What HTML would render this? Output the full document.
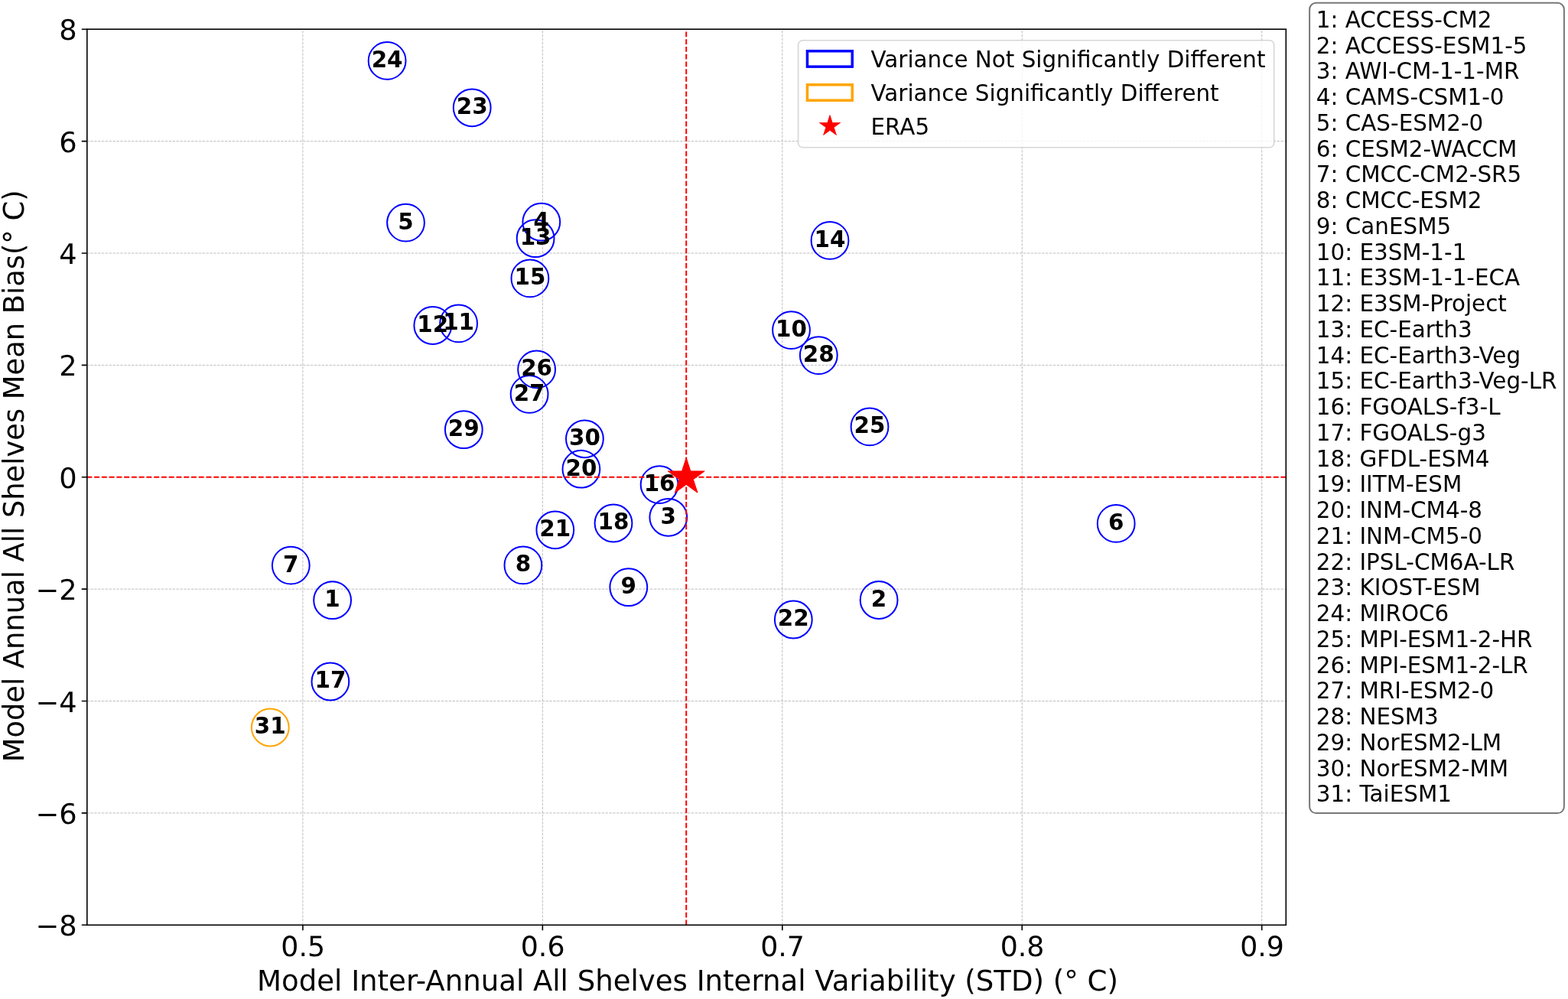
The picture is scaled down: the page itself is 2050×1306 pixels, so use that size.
<!DOCTYPE html><html><head><meta charset="utf-8"><title>Model bias vs variability</title><style>html,body{margin:0;padding:0;background:#fff;overflow:hidden}svg{display:block}text{font-family:"DejaVu Sans","Liberation Sans",sans-serif}</style></head><body>
<svg width="2050" height="1306" viewBox="0 0 2050 1306">
<rect width="100%" height="100%" fill="#fff"/>
<path d="M395.90 1209.30V38.20M709.35 1209.30V38.20M1022.80 1209.30V38.20M1336.25 1209.30V38.20M1649.70 1209.30V38.20" stroke="#bdbdbd" stroke-width="1" stroke-dasharray="3.404 1.474" fill="none"/>
<path d="M113.80 1062.89H1681.30M113.80 916.51H1681.30M113.80 770.13H1681.30M113.80 623.75H1681.30M113.80 477.37H1681.30M113.80 330.99H1681.30M113.80 184.61H1681.30" stroke="#bdbdbd" stroke-width="1" stroke-dasharray="3.404 1.474" stroke-dashoffset="0.38" fill="none"/>
<circle cx="434.6" cy="784.7" r="24.4" fill="none" stroke="#0000ff" stroke-width="2"/>
<circle cx="1149.1" cy="784.5" r="24.4" fill="none" stroke="#0000ff" stroke-width="2"/>
<circle cx="873.8" cy="676.3" r="24.4" fill="none" stroke="#0000ff" stroke-width="2"/>
<circle cx="707.8" cy="290.2" r="24.4" fill="none" stroke="#0000ff" stroke-width="2"/>
<circle cx="530.5" cy="291.1" r="24.4" fill="none" stroke="#0000ff" stroke-width="2"/>
<circle cx="1459.2" cy="684.4" r="24.4" fill="none" stroke="#0000ff" stroke-width="2"/>
<circle cx="380.3" cy="739.1" r="24.4" fill="none" stroke="#0000ff" stroke-width="2"/>
<circle cx="683.9" cy="738.9" r="24.4" fill="none" stroke="#0000ff" stroke-width="2"/>
<circle cx="821.8" cy="767.7" r="24.4" fill="none" stroke="#0000ff" stroke-width="2"/>
<circle cx="1034.5" cy="431.6" r="24.4" fill="none" stroke="#0000ff" stroke-width="2"/>
<circle cx="599.6" cy="422.9" r="24.4" fill="none" stroke="#0000ff" stroke-width="2"/>
<circle cx="565.8" cy="425.5" r="24.4" fill="none" stroke="#0000ff" stroke-width="2"/>
<circle cx="700.1" cy="311.7" r="24.4" fill="none" stroke="#0000ff" stroke-width="2"/>
<circle cx="1085.0" cy="314.4" r="24.4" fill="none" stroke="#0000ff" stroke-width="2"/>
<circle cx="692.9" cy="363.9" r="24.4" fill="none" stroke="#0000ff" stroke-width="2"/>
<circle cx="862.1" cy="633.6" r="24.4" fill="none" stroke="#0000ff" stroke-width="2"/>
<circle cx="431.9" cy="891.0" r="24.4" fill="none" stroke="#0000ff" stroke-width="2"/>
<circle cx="802.0" cy="684.0" r="24.4" fill="none" stroke="#0000ff" stroke-width="2"/>
<circle cx="759.9" cy="613.2" r="24.4" fill="none" stroke="#0000ff" stroke-width="2"/>
<circle cx="725.8" cy="692.8" r="24.4" fill="none" stroke="#0000ff" stroke-width="2"/>
<circle cx="1037.3" cy="810.0" r="24.4" fill="none" stroke="#0000ff" stroke-width="2"/>
<circle cx="617.2" cy="140.8" r="24.4" fill="none" stroke="#0000ff" stroke-width="2"/>
<circle cx="506.1" cy="79.4" r="24.4" fill="none" stroke="#0000ff" stroke-width="2"/>
<circle cx="1137.0" cy="557.9" r="24.4" fill="none" stroke="#0000ff" stroke-width="2"/>
<circle cx="701.6" cy="482.9" r="24.4" fill="none" stroke="#0000ff" stroke-width="2"/>
<circle cx="692.1" cy="515.4" r="24.4" fill="none" stroke="#0000ff" stroke-width="2"/>
<circle cx="1070.3" cy="464.6" r="24.4" fill="none" stroke="#0000ff" stroke-width="2"/>
<circle cx="606.3" cy="561.7" r="24.4" fill="none" stroke="#0000ff" stroke-width="2"/>
<circle cx="764.4" cy="573.8" r="24.4" fill="none" stroke="#0000ff" stroke-width="2"/>
<circle cx="353.3" cy="951.0" r="24.4" fill="none" stroke="#ffa500" stroke-width="2"/>
<polygon points="897.20,598.55 891.54,615.96 873.23,615.96 888.05,626.72 882.39,644.14 897.20,633.38 912.01,644.14 906.35,626.72 921.17,615.96 902.86,615.96" fill="#ff0000" stroke="#ff0000" stroke-width="1" stroke-linejoin="bevel"/>
<path d="M113.80 623.75H1681.30" stroke="#ff0000" stroke-width="2" stroke-dasharray="6.81 2.947" stroke-dashoffset="0.44" fill="none"/>
<path d="M897.20 1209.30V38.20" stroke="#ff0000" stroke-width="2" stroke-dasharray="6.81 2.947" fill="none"/>
<text x="434.6" y="793.1" font-size="29.4" font-weight="bold" text-anchor="middle">1</text>
<text x="1149.1" y="792.9" font-size="29.4" font-weight="bold" text-anchor="middle">2</text>
<text x="873.8" y="684.7" font-size="29.4" font-weight="bold" text-anchor="middle">3</text>
<text x="707.8" y="298.6" font-size="29.4" font-weight="bold" text-anchor="middle">4</text>
<text x="530.5" y="299.5" font-size="29.4" font-weight="bold" text-anchor="middle">5</text>
<text x="1459.2" y="692.8" font-size="29.4" font-weight="bold" text-anchor="middle">6</text>
<text x="380.3" y="747.5" font-size="29.4" font-weight="bold" text-anchor="middle">7</text>
<text x="683.9" y="747.3" font-size="29.4" font-weight="bold" text-anchor="middle">8</text>
<text x="821.8" y="776.1" font-size="29.4" font-weight="bold" text-anchor="middle">9</text>
<text x="1034.5" y="440.0" font-size="29.4" font-weight="bold" text-anchor="middle">10</text>
<text x="599.6" y="431.3" font-size="29.4" font-weight="bold" text-anchor="middle">11</text>
<text x="565.8" y="433.9" font-size="29.4" font-weight="bold" text-anchor="middle">12</text>
<text x="700.1" y="320.1" font-size="29.4" font-weight="bold" text-anchor="middle">13</text>
<text x="1085.0" y="322.8" font-size="29.4" font-weight="bold" text-anchor="middle">14</text>
<text x="692.9" y="372.3" font-size="29.4" font-weight="bold" text-anchor="middle">15</text>
<text x="862.1" y="642.0" font-size="29.4" font-weight="bold" text-anchor="middle">16</text>
<text x="431.9" y="899.4" font-size="29.4" font-weight="bold" text-anchor="middle">17</text>
<text x="802.0" y="692.4" font-size="29.4" font-weight="bold" text-anchor="middle">18</text>
<text x="759.9" y="621.6" font-size="29.4" font-weight="bold" text-anchor="middle">20</text>
<text x="725.8" y="701.2" font-size="29.4" font-weight="bold" text-anchor="middle">21</text>
<text x="1037.3" y="818.4" font-size="29.4" font-weight="bold" text-anchor="middle">22</text>
<text x="617.2" y="149.2" font-size="29.4" font-weight="bold" text-anchor="middle">23</text>
<text x="506.1" y="87.8" font-size="29.4" font-weight="bold" text-anchor="middle">24</text>
<text x="1137.0" y="566.3" font-size="29.4" font-weight="bold" text-anchor="middle">25</text>
<text x="701.6" y="491.3" font-size="29.4" font-weight="bold" text-anchor="middle">26</text>
<text x="692.1" y="523.8" font-size="29.4" font-weight="bold" text-anchor="middle">27</text>
<text x="1070.3" y="473.0" font-size="29.4" font-weight="bold" text-anchor="middle">28</text>
<text x="606.3" y="570.1" font-size="29.4" font-weight="bold" text-anchor="middle">29</text>
<text x="764.4" y="582.2" font-size="29.4" font-weight="bold" text-anchor="middle">30</text>
<text x="353.3" y="959.4" font-size="29.4" font-weight="bold" text-anchor="middle">31</text>
<rect x="113.80" y="38.20" width="1567.50" height="1171.10" fill="none" stroke="#000" stroke-width="1.6" stroke-linejoin="miter"/>
<path d="M395.90 1209.30V1216.30M709.35 1209.30V1216.30M1022.80 1209.30V1216.30M1336.25 1209.30V1216.30M1649.70 1209.30V1216.30M106.80 1209.27H113.80M106.80 1062.89H113.80M106.80 916.51H113.80M106.80 770.13H113.80M106.80 623.75H113.80M106.80 477.37H113.80M106.80 330.99H113.80M106.80 184.61H113.80M106.80 38.23H113.80" stroke="#000" stroke-width="1.6" fill="none"/>
<text x="396.20" y="1249.6" font-size="36.3" text-rendering="geometricPrecision" text-anchor="middle">0.5</text>
<text x="709.65" y="1249.6" font-size="36.3" text-rendering="geometricPrecision" text-anchor="middle">0.6</text>
<text x="1023.10" y="1249.6" font-size="36.3" text-rendering="geometricPrecision" text-anchor="middle">0.7</text>
<text x="1336.55" y="1249.6" font-size="36.3" text-rendering="geometricPrecision" text-anchor="middle">0.8</text>
<text x="1650.00" y="1249.6" font-size="36.3" text-rendering="geometricPrecision" text-anchor="middle">0.9</text>
<text x="100.7" y="1223.27" font-size="36.8" text-rendering="geometricPrecision" text-anchor="end">−8</text>
<text x="100.7" y="1076.89" font-size="36.8" text-rendering="geometricPrecision" text-anchor="end">−6</text>
<text x="100.7" y="930.51" font-size="36.8" text-rendering="geometricPrecision" text-anchor="end">−4</text>
<text x="100.7" y="784.13" font-size="36.8" text-rendering="geometricPrecision" text-anchor="end">−2</text>
<text x="100.7" y="637.75" font-size="36.8" text-rendering="geometricPrecision" text-anchor="end">0</text>
<text x="100.7" y="491.37" font-size="36.8" text-rendering="geometricPrecision" text-anchor="end">2</text>
<text x="100.7" y="344.99" font-size="36.8" text-rendering="geometricPrecision" text-anchor="end">4</text>
<text x="100.7" y="198.61" font-size="36.8" text-rendering="geometricPrecision" text-anchor="end">6</text>
<text x="100.7" y="52.23" font-size="36.8" text-rendering="geometricPrecision" text-anchor="end">8</text>
<text x="899.0" y="1294.6" font-size="37.07" text-anchor="middle">Model Inter-Annual All Shelves Internal Variability (STD) (° C)</text>
<text transform="translate(31 622.4) rotate(-90)" x="0" y="0" font-size="36.82" text-anchor="middle">Model Annual All Shelves Mean Bias(° C)</text>
<rect x="1043.6" y="52.7" width="622.1" height="140.1" rx="6" ry="6" fill="#fff" fill-opacity="0.8" stroke="#cccccc" stroke-opacity="0.8" stroke-width="1.6"/>
<rect x="1055.45" y="66.75" width="58.8" height="20.4" fill="none" stroke="#0000ff" stroke-width="3.5"/>
<rect x="1055.45" y="110.8" width="58.8" height="20.4" fill="none" stroke="#ffa500" stroke-width="3.5"/>
<polygon points="1085.00,150.60 1081.79,160.48 1071.40,160.48 1079.81,166.59 1076.59,176.47 1085.00,170.36 1093.41,176.47 1090.19,166.59 1098.60,160.48 1088.21,160.48" fill="#ff0000" stroke="#ff0000" stroke-width="0.8" stroke-linejoin="bevel"/>
<text x="1138.5" y="87.60" font-size="29.4">Variance Not Significantly Different</text>
<text x="1138.5" y="131.65" font-size="29.4">Variance Significantly Different</text>
<text x="1138.5" y="175.70" font-size="29.4">ERA5</text>
<rect x="1712.1" y="3.8" width="332.8" height="1059.3" rx="8.5" ry="8.5" fill="#fff" stroke="#787878" stroke-width="2"/>
<text x="1720.8" y="35.90" font-size="29.4">1: ACCESS-CM2</text>
<text x="1720.8" y="69.65" font-size="29.4">2: ACCESS-ESM1-5</text>
<text x="1720.8" y="103.40" font-size="29.4">3: AWI-CM-1-1-MR</text>
<text x="1720.8" y="137.15" font-size="29.4">4: CAMS-CSM1-0</text>
<text x="1720.8" y="170.90" font-size="29.4">5: CAS-ESM2-0</text>
<text x="1720.8" y="204.65" font-size="29.4">6: CESM2-WACCM</text>
<text x="1720.8" y="238.40" font-size="29.4">7: CMCC-CM2-SR5</text>
<text x="1720.8" y="272.15" font-size="29.4">8: CMCC-ESM2</text>
<text x="1720.8" y="305.90" font-size="29.4">9: CanESM5</text>
<text x="1720.8" y="339.65" font-size="29.4">10: E3SM-1-1</text>
<text x="1720.8" y="373.40" font-size="29.4">11: E3SM-1-1-ECA</text>
<text x="1720.8" y="407.15" font-size="29.4">12: E3SM-Project</text>
<text x="1720.8" y="440.90" font-size="29.4">13: EC-Earth3</text>
<text x="1720.8" y="474.65" font-size="29.4">14: EC-Earth3-Veg</text>
<text x="1720.8" y="508.40" font-size="29.4">15: EC-Earth3-Veg-LR</text>
<text x="1720.8" y="542.15" font-size="29.4">16: FGOALS-f3-L</text>
<text x="1720.8" y="575.90" font-size="29.4">17: FGOALS-g3</text>
<text x="1720.8" y="609.65" font-size="29.4">18: GFDL-ESM4</text>
<text x="1720.8" y="643.40" font-size="29.4">19: IITM-ESM</text>
<text x="1720.8" y="677.15" font-size="29.4">20: INM-CM4-8</text>
<text x="1720.8" y="710.90" font-size="29.4">21: INM-CM5-0</text>
<text x="1720.8" y="744.65" font-size="29.4">22: IPSL-CM6A-LR</text>
<text x="1720.8" y="778.40" font-size="29.4">23: KIOST-ESM</text>
<text x="1720.8" y="812.15" font-size="29.4">24: MIROC6</text>
<text x="1720.8" y="845.90" font-size="29.4">25: MPI-ESM1-2-HR</text>
<text x="1720.8" y="879.65" font-size="29.4">26: MPI-ESM1-2-LR</text>
<text x="1720.8" y="913.40" font-size="29.4">27: MRI-ESM2-0</text>
<text x="1720.8" y="947.15" font-size="29.4">28: NESM3</text>
<text x="1720.8" y="980.90" font-size="29.4">29: NorESM2-LM</text>
<text x="1720.8" y="1014.65" font-size="29.4">30: NorESM2-MM</text>
<text x="1720.8" y="1048.40" font-size="29.4">31: TaiESM1</text>
</svg></body></html>
